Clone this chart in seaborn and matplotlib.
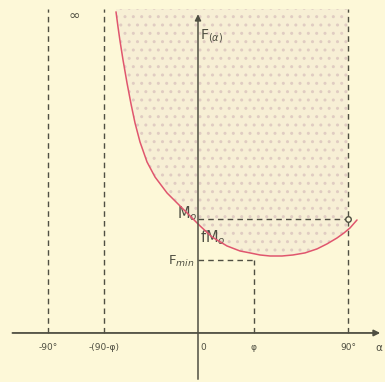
import numpy as np
import pandas as pd
import matplotlib
matplotlib.use("Agg")
import matplotlib.pyplot as plt
import seaborn as sns

# curve F(alpha) (alpha in degrees, F in units of M0)
alpha = [-49.2, -48.0, -46.8, -45.0, -42.6, -40.2, -37.8, -34.8, -30.6, -25.8,
         -18.6, -10.8, -3.6, 1.2, 8.4, 17.4, 25.2, 31.2, 37.2, 43.2,
         50.4, 57.0, 64.2, 71.4, 77.4, 83.4, 87.6, 91.2, 95.4]
force = [2.816, 2.684, 2.561, 2.395, 2.193, 2.009, 1.842, 1.675, 1.500, 1.368,
         1.228, 1.114, 1.009, 0.939, 0.842, 0.763, 0.719, 0.702, 0.684, 0.675,
         0.675, 0.684, 0.702, 0.737, 0.781, 0.833, 0.877, 0.921, 0.991]

phi = 33.5          # friction angle position
M0 = 1.0            # level M0
Fmin = 0.64         # level Fmin

tick_pos = [-90, -(90 - phi), 0, phi, 90]
tick_lab = ["-90°", "-(90-φ)", "0", "φ", "90°"]

df = pd.DataFrame({"alpha": alpha, "F": force})

sns.set_theme(style="white")
bg = "#fdf8d8"
ink = "#4f4f42"
plt.rcParams["font.family"] = ["DejaVu Sans"]
plt.rcParams["hatch.linewidth"] = 1.0

fig = plt.figure(figsize=(3.85, 3.82), dpi=100, facecolor=bg)
ax = fig.add_axes([0, 0, 1, 1])
ax.set_facecolor(bg)

top = 2.84
a_arr = np.array(alpha)
f_arr = np.array(force)
mask = a_arr <= 90
fa = np.append(a_arr[mask], 90)
ff = np.append(f_arr[mask], np.interp(90, a_arr, f_arr))
ax.fill_between(fa, ff, top, facecolor="#f7efd5", edgecolor="#e0ccc2",
                hatch="..", linewidth=0, zorder=1)

sns.lineplot(data=df, x="alpha", y="F", ax=ax, color="#e0566e", lw=1.1,
             sort=False, zorder=4, legend=False)
ax.set_xlim(-118.8, 112.2)
ax.set_ylim(-0.43, 2.92)
ax.axis("off")

# axes with arrows
ax.annotate("", xy=(111, 0), xytext=(-113, 0),
            arrowprops=dict(arrowstyle="-|>", color=ink, lw=1.3,
                            mutation_scale=9), zorder=5)
ax.annotate("", xy=(0, 2.82), xytext=(0, -0.43),
            arrowprops=dict(arrowstyle="-|>", color=ink, lw=1.1,
                            mutation_scale=9), zorder=5)

dash = dict(color=ink, lw=1.0, ls=(0, (4, 3)), zorder=3)
ax.plot([-90, -90], [0, top], **dash)
ax.plot([-(90 - phi)] * 2, [0, top], **dash)
ax.plot([90, 90], [0, top], **dash)
ax.plot([phi, phi], [0, Fmin], **dash)
ax.plot([0, 90], [M0, M0], **dash)
ax.plot([0, phi], [Fmin, Fmin], **dash)
ax.plot([90], [M0], marker="o", ms=4, mfc=bg, mec=ink, mew=1.0, zorder=6)

# tick labels
for p, l in zip(tick_pos, tick_lab):
    ax.text(p + (3 if p == 0 else 0), -0.13, l, ha="center", va="center",
            fontsize=6.5, color=ink)
ax.text(108.5, -0.13, "α", ha="center", va="center", fontsize=7.5, color=ink)

# labels
ax.text(1.5, 2.6, r"F$_{(\alpha)}$", ha="left", va="center", fontsize=10, color=ink)
ax.text(-0.5, 1.05, r"M$_o$", ha="right", va="center", fontsize=10.5, color=ink)
ax.text(1.2, 0.84, r"fM$_o$", ha="left", va="center", fontsize=10.5, color=ink)
ax.text(-2, 0.63, r"F$_{min}$", ha="right", va="center", fontsize=9.5, color=ink)
ax.text(-74, 2.78, "∞", ha="center", va="center", fontsize=10, color=ink)

fig.savefig("out.png", dpi=100, facecolor=bg)
